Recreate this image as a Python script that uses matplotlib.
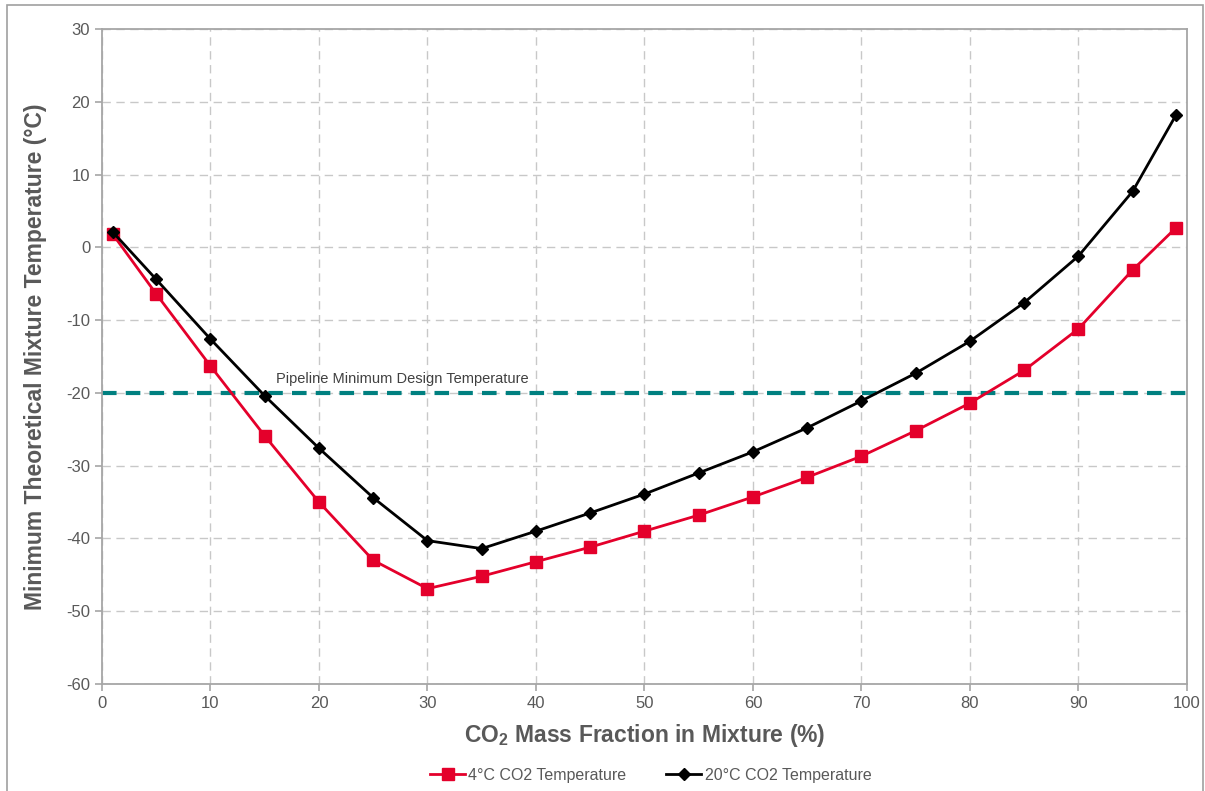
import matplotlib.pyplot as plt
from matplotlib.patches import Rectangle

# CO2 mass fraction (%) and minimum mixture temperature (degC)
co2_fraction = [1, 5, 10, 15, 20, 25, 30, 35, 40, 45, 50, 55, 60, 65, 70, 75, 80, 85, 90, 95, 99]
temp_4c = [1.8, -6.4, -16.3, -25.9, -35.0, -43.0, -46.9, -45.2, -43.2, -41.2, -39.0,
           -36.8, -34.3, -31.6, -28.7, -25.2, -21.4, -16.9, -11.2, -3.1, 2.7]
temp_20c = [2.1, -4.4, -12.6, -20.4, -27.6, -34.4, -40.3, -41.4, -39.0, -36.5, -33.9,
            -31.0, -28.1, -24.8, -21.1, -17.3, -12.9, -7.6, -1.2, 7.7, 18.2]
design_temp = -20

plt.rcParams['font.family'] = ['Liberation Sans', 'DejaVu Sans']
plt.rcParams['axes.unicode_minus'] = False
# bold subscript in the x label
plt.rcParams['mathtext.fontset'] = 'custom'
plt.rcParams['mathtext.bf'] = 'Liberation Sans:bold'

grey_text = '#595959'
axis_grey = '#a6a6a6'

fig = plt.figure(figsize=(12.05, 7.91), dpi=100)
ax = fig.add_axes([0.0846, 0.1353, 0.9004, 0.828])

# outer chart border
fig.patches.append(Rectangle((7 / 1205, -0.01), 1196 / 1205, 1 - 5 / 791 + 0.01,
                             transform=fig.transFigure, fill=False,
                             edgecolor='#a0a0a0', linewidth=1.2))

ax.axhline(design_temp, color='#008080', linewidth=3, linestyle=(0, (3.5, 2.2)), zorder=2)
ax.text(16.0, design_temp + 0.9, 'Pipeline Minimum Design Temperature',
        fontsize=10.5, color='#404040', va='bottom', ha='left')

ax.plot(co2_fraction, temp_4c, color='#e4002b', linewidth=2, marker='s',
        markersize=8, label='4°C CO2 Temperature', zorder=3)
ax.plot(co2_fraction, temp_20c, color='black', linewidth=2, marker='D',
        markersize=6, label='20°C CO2 Temperature', zorder=4)

ax.set_xlim(0, 100)
ax.set_ylim(-60, 30)
ax.set_xticks(range(0, 101, 10))
ax.set_yticks(range(-60, 31, 10))
ax.grid(True, color='#c8c8c8', linestyle=(0, (6, 4)), linewidth=1)
ax.set_axisbelow(True)

for side in ['left', 'bottom', 'top', 'right']:
    ax.spines[side].set_color(axis_grey)
    ax.spines[side].set_linewidth(1.3)

ax.tick_params(colors=axis_grey, labelcolor=grey_text, labelsize=12, length=5, width=1.2)

ax.set_xlabel(r'$\mathbf{CO_2}$ Mass Fraction in Mixture (%)', fontsize=16.5,
              fontweight='bold', color=grey_text, labelpad=8)
ax.set_ylabel('Minimum Theoretical Mixture Temperature (°C)', fontsize=16.5,
              fontweight='bold', color=grey_text, labelpad=14)

fig.legend(loc='center', bbox_to_anchor=(0.54, 0.02), ncol=2, frameon=False,
           fontsize=11.5, labelcolor=grey_text, handlelength=2.2, columnspacing=2.5,
           handletextpad=0.2)

plt.savefig('out.png', dpi=100)
